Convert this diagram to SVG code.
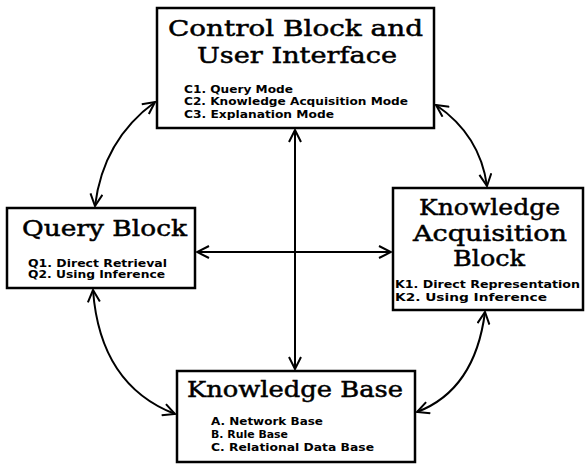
<svg xmlns="http://www.w3.org/2000/svg" width="587" height="464" viewBox="0 0 587 464">
<style>
.box{fill:#fff;stroke:#000;stroke-width:2.5}
.title{font-family:"DejaVu Serif","Liberation Serif",serif;font-size:23px;fill:#000;stroke:#000;stroke-width:0.5}
.item{font-family:"DejaVu Sans","Liberation Sans",sans-serif;font-weight:bold;font-size:10.5px;fill:#000}
.conn{fill:none;stroke:#000;stroke-width:2}
</style>
<defs>
<marker id="ah" viewBox="0 0 14 14" refX="13" refY="7" markerWidth="14" markerHeight="14" markerUnits="userSpaceOnUse" orient="auto-start-reverse">
<polyline points="1,1 13,7 1,13" fill="none" stroke="#000" stroke-width="2"/>
</marker>
</defs>
<g id="connectors">
<line class="conn" x1="295" y1="130" x2="295" y2="369" marker-start="url(#ah)" marker-end="url(#ah)"/>
<line class="conn" x1="197" y1="252" x2="391" y2="252" marker-start="url(#ah)" marker-end="url(#ah)"/>
<path class="conn" d="M155,102 Q103,140 95,206" marker-start="url(#ah)" marker-end="url(#ah)"/>
<path class="conn" d="M436,105 Q480,135 487,186" marker-start="url(#ah)" marker-end="url(#ah)"/>
<path class="conn" d="M93,290 Q100,385 175,414" marker-start="url(#ah)" marker-end="url(#ah)"/>
<path class="conn" d="M485,312 Q475,390 417,412" marker-start="url(#ah)" marker-end="url(#ah)"/>
</g>
<g id="control">
<rect class="box" x="157" y="8" width="277" height="120"/>
<text class="title" x="168" y="36" textLength="255" lengthAdjust="spacingAndGlyphs">Control Block and</text>
<text class="title" x="197" y="63" textLength="200" lengthAdjust="spacingAndGlyphs">User Interface</text>
<text class="item" x="184" y="93" textLength="109" lengthAdjust="spacingAndGlyphs">C1. Query Mode</text>
<text class="item" x="184" y="105" textLength="224" lengthAdjust="spacingAndGlyphs">C2. Knowledge Acquisition Mode</text>
<text class="item" x="184" y="118" textLength="150" lengthAdjust="spacingAndGlyphs">C3. Explanation Mode</text>
</g>
<g id="query">
<rect class="box" x="7" y="208" width="188" height="80"/>
<text class="title" x="22" y="236" textLength="165" lengthAdjust="spacingAndGlyphs">Query Block</text>
<text class="item" x="28" y="267" textLength="139" lengthAdjust="spacingAndGlyphs">Q1. Direct Retrieval</text>
<text class="item" x="28" y="278" textLength="137" lengthAdjust="spacingAndGlyphs">Q2. Using Inference</text>
</g>
<g id="acquisition">
<rect class="box" x="393" y="188" width="190" height="122"/>
<text class="title" x="419" y="215" textLength="141" lengthAdjust="spacingAndGlyphs">Knowledge</text>
<text class="title" x="413" y="241" textLength="154" lengthAdjust="spacingAndGlyphs">Acquisition</text>
<text class="title" x="453" y="266" textLength="72" lengthAdjust="spacingAndGlyphs">Block</text>
<text class="item" x="395" y="288" textLength="185" lengthAdjust="spacingAndGlyphs">K1. Direct Representation</text>
<text class="item" x="395" y="301" textLength="152" lengthAdjust="spacingAndGlyphs">K2. Using Inference</text>
</g>
<g id="kbase">
<rect class="box" x="177" y="371" width="238" height="91"/>
<text class="title" x="187" y="397" textLength="216" lengthAdjust="spacingAndGlyphs">Knowledge Base</text>
<text class="item" x="211" y="425" textLength="112" lengthAdjust="spacingAndGlyphs">A. Network Base</text>
<text class="item" x="211" y="438" textLength="77" lengthAdjust="spacingAndGlyphs">B. Rule Base</text>
<text class="item" x="211" y="451" textLength="163" lengthAdjust="spacingAndGlyphs">C. Relational Data Base</text>
</g>
</svg>
